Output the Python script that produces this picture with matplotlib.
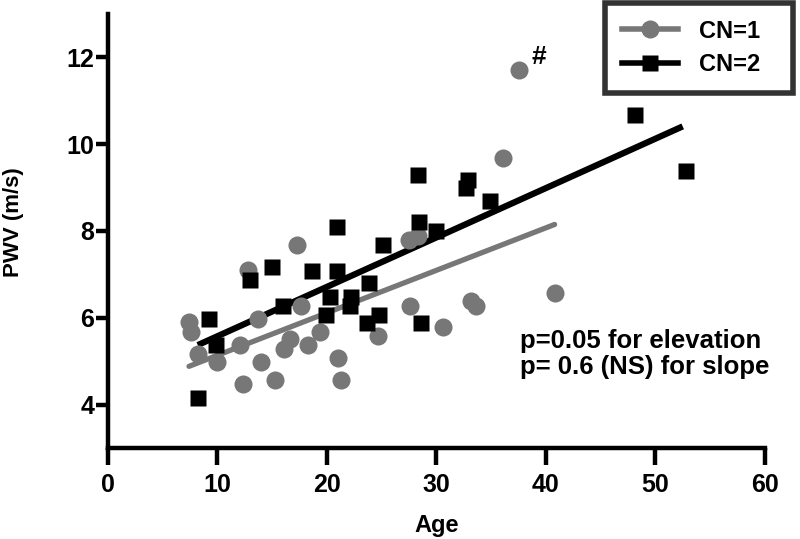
import matplotlib
matplotlib.use("Agg")
import matplotlib.pyplot as plt
from matplotlib.lines import Line2D

# ---- data ----
cn1_age = [7.4, 7.55, 8.2, 10.0, 12.1, 12.3, 12.8, 13.7, 14.0, 15.3, 16.1, 16.6,
           17.3, 17.6, 18.3, 19.4, 21.0, 21.3, 24.7, 27.5, 28.3, 27.6, 30.6,
           33.2, 33.6, 40.8, 37.5, 36.1]
cn1_pwv = [5.9, 5.67, 5.17, 4.97, 5.38, 4.48, 7.09, 5.98, 4.97, 4.56, 5.27, 5.5,
           7.67, 6.28, 5.38, 5.67, 5.07, 4.56, 5.57, 7.8, 7.88, 6.28, 5.78,
           6.38, 6.27, 6.57, 11.7, 9.68]
cn2_age = [9.2, 9.9, 8.2, 13.0, 15.0, 16.0, 18.6, 20.9, 20.9, 20.3, 19.9, 22.2,
           22.1, 23.8, 23.7, 24.8, 25.1, 28.6, 28.4, 30.0, 28.3, 32.9, 32.7,
           34.9, 48.1, 52.8]
cn2_pwv = [5.97, 5.38, 4.15, 6.86, 7.17, 6.28, 7.07, 8.09, 7.07, 6.48, 6.07, 6.48,
           6.28, 6.79, 5.88, 6.07, 7.67, 5.88, 8.2, 7.99, 9.28, 9.18, 8.99,
           8.68, 10.68, 9.38]
fit1_age = [7.4, 40.8]
fit1_pwv = [4.88, 8.15]
fit2_age = [8.2, 52.5]
fit2_pwv = [5.37, 10.41]
x_ticks = [0, 10, 20, 30, 40, 50, 60]
y_ticks = [4, 6, 8, 10, 12]
legend_labels = ["CN=1", "CN=2"]
annotation = "p=0.05 for elevation\np= 0.6 (NS) for slope"

plt.rcParams['font.family'] = ['Liberation Sans', 'DejaVu Sans']

GRAY = "#777777"

fig = plt.figure(figsize=(8, 5.39), dpi=100)
ax = fig.add_axes([0.135, 0.169, 0.821, 0.805])

ax.plot(fit1_age, fit1_pwv, color=GRAY, lw=3.8, solid_capstyle='round', zorder=2)
ax.plot(fit2_age, fit2_pwv, color='black', lw=4.5, solid_capstyle='butt', zorder=2)
ax.plot(cn1_age, cn1_pwv, 'o', color=GRAY, ms=13, mec='none', zorder=3)
ax.plot(cn2_age, cn2_pwv, 's', color='black', ms=12, mec='none', zorder=3)

ax.text(38.7, 11.85, "#", fontsize=19, fontweight='bold', ha='left', va='baseline')

ax.text(0.627, 0.275, annotation, transform=ax.transAxes, fontsize=18.5,
        fontweight='bold', ha='left', va='top', linespacing=1.13)

ax.set_xlim(0, 60)
ax.set_ylim(3, 13)
ax.set_xticks(x_ticks)
ax.set_yticks(y_ticks)
for s in ['top', 'right']:
    ax.spines[s].set_visible(False)
for s in ['left', 'bottom']:
    ax.spines[s].set_linewidth(3.2)
ax.tick_params(axis='x', length=12, width=3.2, direction='out', pad=6)
ax.tick_params(axis='y', length=9, width=3.2, direction='out', pad=1)
for lab in ax.get_xticklabels() + ax.get_yticklabels():
    lab.set_fontweight('bold')
    lab.set_fontsize(18)

ax.set_xlabel("Age", fontsize=17, fontweight='bold', labelpad=12)
ax.set_ylabel("PWV (m/s)", fontsize=16, fontweight='bold')
ax.yaxis.set_label_coords(-0.128, 0.52)

handles = [Line2D([0], [0], color=GRAY, lw=4, marker='o', ms=13, mec='none'),
           Line2D([0], [0], color='black', lw=4, marker='s', ms=12, mec='none')]
W, H = fig.get_size_inches() * fig.dpi
leg = fig.legend(handles, legend_labels, loc='upper left',
                 bbox_to_anchor=(605 / W, 1 - 97 / H, 188 / W, 94 / H), mode='expand',
                 prop={'weight': 'bold', 'size': 17}, frameon=True, fancybox=False,
                 edgecolor='black', handlelength=2.4, handletextpad=0.9,
                 borderpad=0.7, labelspacing=0.45, borderaxespad=0)
leg.get_frame().set_linewidth(4)

fig.savefig("out.png", dpi=100)
